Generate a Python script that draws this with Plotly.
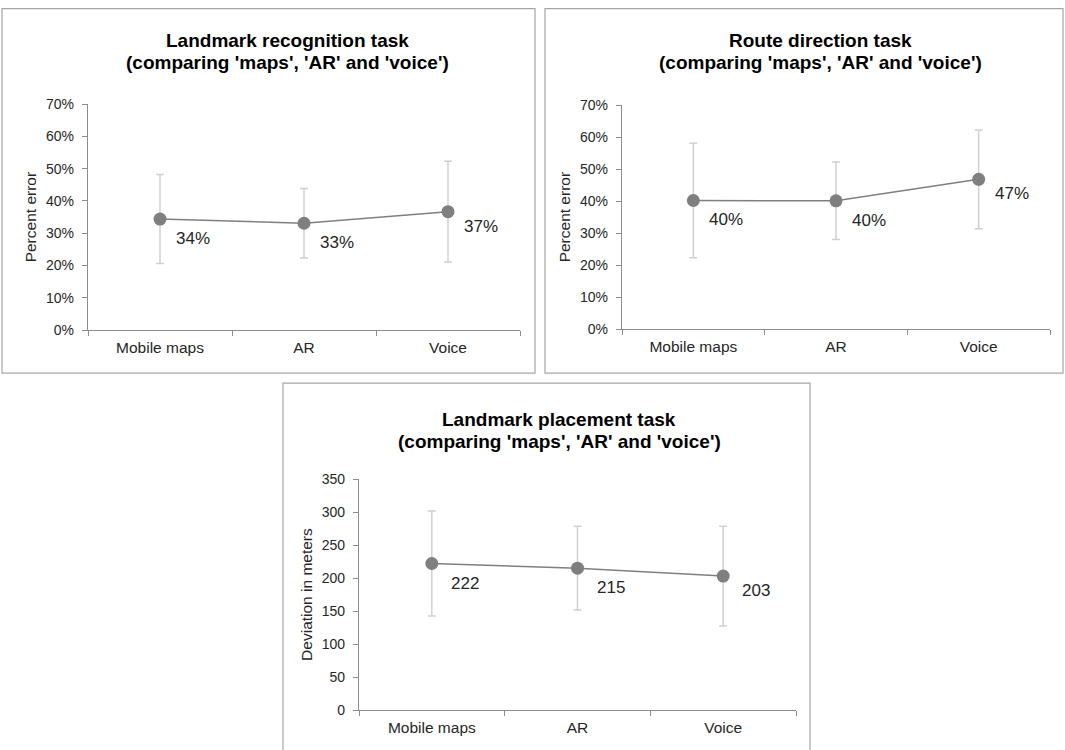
import plotly.graph_objects as go

categories = ["Mobile maps", "AR", "Voice"]

# Panel 1: Landmark recognition task (percent error)
recog_mean = [0.344, 0.331, 0.367]
recog_err = [0.138, 0.108, 0.156]

# Panel 2: Route direction task (percent error)
route_mean = [0.402, 0.401, 0.468]
route_err = [0.179, 0.121, 0.154]

# Panel 3: Landmark placement task (deviation in meters)
place_mean = [222, 215, 203]
place_err = [79.5, 63.5, 75.5]

title_line1 = ["Landmark recognition task", "Route direction task", "Landmark placement task"]
title_line2 = "(comparing 'maps', 'AR' and 'voice')"
y_titles = ["Percent error", "Percent error", "Deviation in meters"]

W, H = 1065, 758
TOP = 8          # offset of the figure in the captured page
K = 766 / 750    # captured page height / picture height
FONT = "Liberation Sans, Arial, sans-serif"
TXT = "#262626"
AXIS = "#8c8c8c"
MARK = "#7f7f7f"
ERR = "#d0d0d0"


def px(x):
    return x / W


def py(y):
    fy = max(y * K - TOP, 0.7)
    return 1 - fy / H


fig = go.Figure()

panels = [
    dict(mean=recog_mean, err=recog_err, xd=(88, 520), yd=(104, 330),
         yr=[0, 0.7], dt=0.1, fmt=".0%", title_x=287, title_y=(40, 62), border=(2, 2, 535, 373)),
    dict(mean=route_mean, err=route_err, xd=(622, 1050), yd=(105, 329),
         yr=[0, 0.7], dt=0.1, fmt=".0%", title_x=820, title_y=(40, 62), border=(545, 2, 1063, 373)),
    dict(mean=place_mean, err=place_err, xd=(359, 796), yd=(479, 710),
         yr=[0, 350], dt=50, fmt="d", title_x=559, title_y=(419, 441), border=(283, 383, 810, 770)),
]

label_dy = [19.5, 19.5, 14.5]
annotations = []
shapes = []

for i, p in enumerate(panels):
    n = "" if i == 0 else str(i + 1)
    xa, ya = "x" + n, "y" + n
    fig.add_trace(go.Scatter(
        x=categories, y=p["mean"], xaxis=xa, yaxis=ya,
        mode="lines+markers",
        line=dict(color=MARK, width=1.5),
        marker=dict(color=MARK, size=13),
        error_y=dict(type="data", array=p["err"], visible=True,
                     color=ERR, thickness=1.5, width=4),
        showlegend=False, hoverinfo="skip",
    ))
    for j, (c, v) in enumerate(zip(categories, p["mean"])):
        txt = f"{round(v * 100):d}%" if p["fmt"] == ".0%" else f"{v:d}"
        annotations.append(dict(
            x=c, y=v, xref=xa, yref=ya, text=txt, showarrow=False,
            xshift=33, yshift=-label_dy[j], xanchor="center", yanchor="middle",
            font=dict(family=FONT, size=17, color=TXT),
        ))
    for line_text, ly in zip([title_line1[i], title_line2], p["title_y"]):
        annotations.append(dict(
            x=px(p["title_x"]), y=py(ly), xref="paper", yref="paper",
            text="<b>" + line_text + "</b>",
            showarrow=False, xanchor="center", yanchor="middle",
            font=dict(family=FONT, size=19, color="#000000"),
        ))
    x0, y0, x1, y1 = p["border"]
    shapes.append(dict(type="rect", xref="paper", yref="paper",
                       x0=px(x0), x1=px(x1), y0=py(y1), y1=py(y0),
                       line=dict(color="#a6a6a6", width=1.2), fillcolor="rgba(0,0,0,0)"))

    xkey = "xaxis" + n
    ykey = "yaxis" + n
    fig.update_layout(**{
        xkey: dict(
            domain=[px(p["xd"][0]), px(p["xd"][1])], anchor=ya,
            type="category", range=[-0.5, 2.5], tickson="boundaries",
            ticks="outside", ticklen=5, tickcolor=AXIS, showline=True,
            linecolor=AXIS, linewidth=1.2, showgrid=False, zeroline=False,
            tickfont=dict(family=FONT, size=15.5, color=TXT), ticklabelstandoff=3,
            fixedrange=True,
        ),
        ykey: dict(
            domain=[py(p["yd"][1]), py(p["yd"][0])], anchor=xa,
            range=p["yr"], dtick=p["dt"], tick0=0, tickformat=p["fmt"],
            ticks="outside", ticklen=5, tickcolor=AXIS, showline=True,
            linecolor=AXIS, linewidth=1.2, showgrid=False, zeroline=False,
            tickfont=dict(family=FONT, size=14, color=TXT), ticklabelstandoff=5,
            title=dict(text=y_titles[i], standoff=5,
                       font=dict(family=FONT, size=15.5, color=TXT)),
            fixedrange=True,
        ),
    })

fig.update_layout(
    width=W, height=H, autosize=False,
    margin=dict(l=0, r=0, t=0, b=0),
    paper_bgcolor="white", plot_bgcolor="white",
    annotations=annotations, shapes=shapes,
    font=dict(family=FONT, color=TXT),
)

fig.write_html(
    "out.html",
    config={"displayModeBar": False, "staticPlot": True},
    post_script=(
        "document.documentElement.style.cssText='margin:0;padding:0;overflow:hidden';"
        "document.body.style.cssText='margin:0;padding:0;overflow:hidden';"
    ),
)
